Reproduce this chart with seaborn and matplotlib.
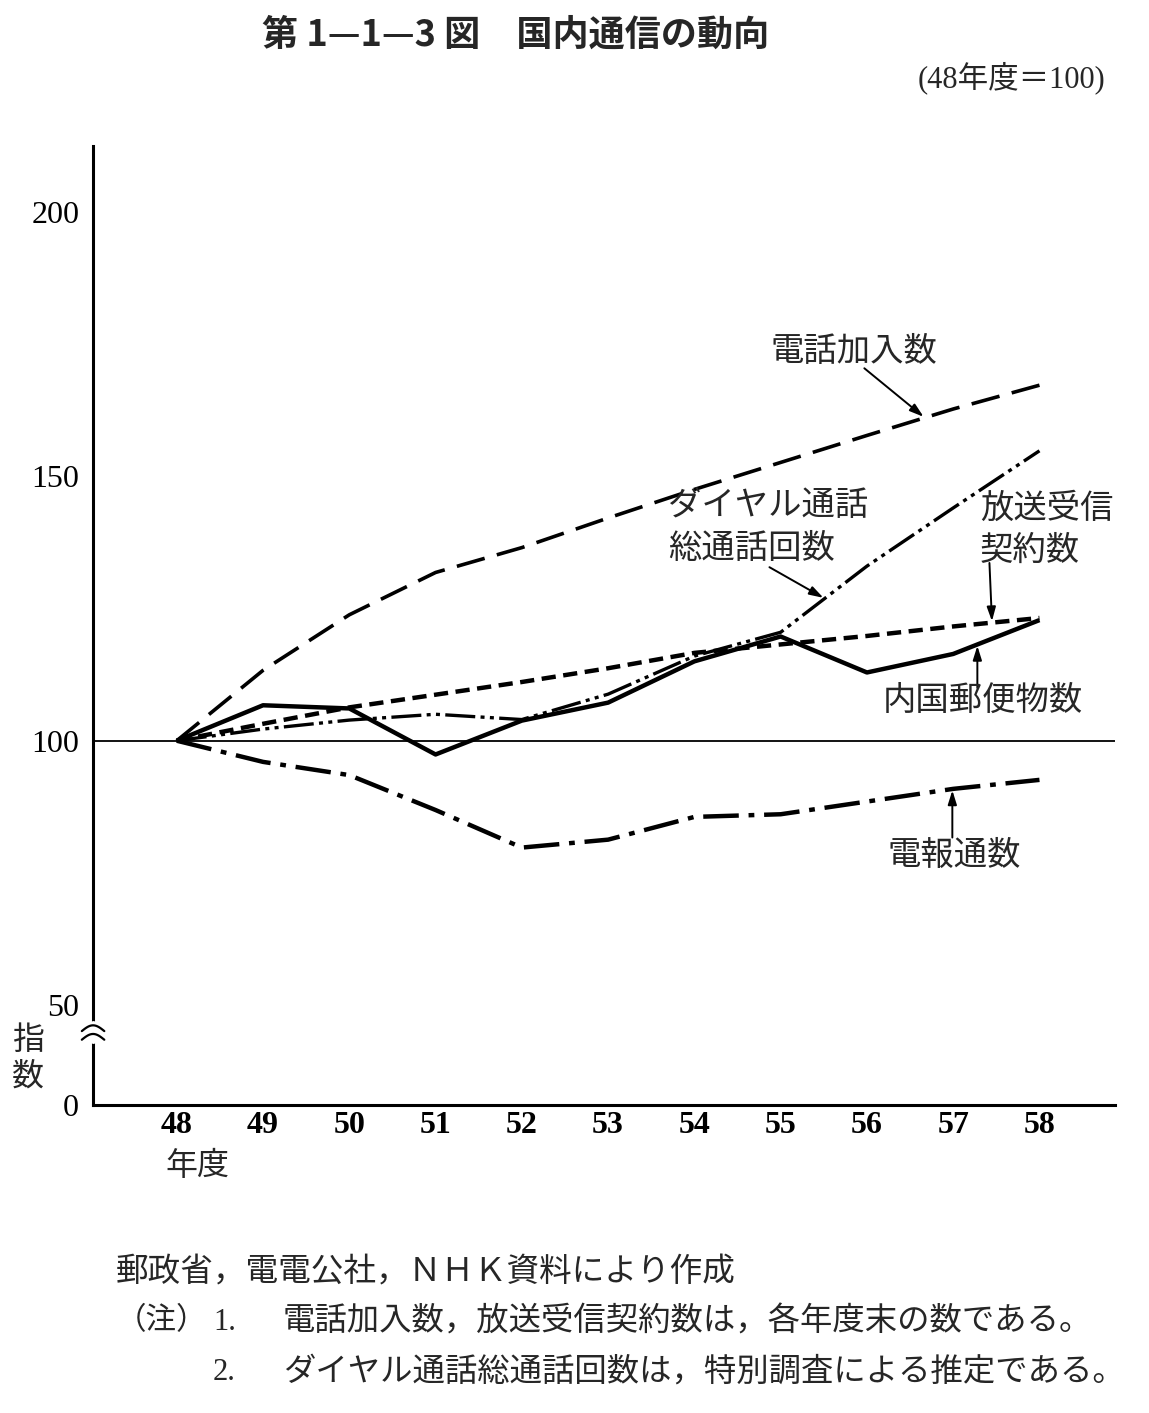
import numpy as np
import pandas as pd
import matplotlib
matplotlib.use("Agg")
import matplotlib.pyplot as plt
import seaborn as sns

# 国内通信の動向 (48年度=100)
years = [48, 49, 50, 51, 52, 53, 54, 55, 56, 57, 58]
tel_subs = [100, 113.3, 123.8, 131.8, 136.5, 142.1, 147.5, 152.6, 157.7, 162.7, 167.2]
dial_calls = [100, 102.2, 103.9, 105.0, 104.0, 108.8, 116.0, 120.5, 133.0, 144.0, 154.8]
broadcast = [100, 103.2, 106.3, 108.7, 111.1, 113.7, 116.6, 118.2, 119.8, 121.6, 123.2]
mail = [100, 106.7, 106.1, 97.4, 103.8, 107.2, 115.0, 119.7, 112.9, 116.4, 122.8]
telegram = [100, 96.0, 93.5, 86.9, 79.8, 81.3, 85.6, 86.1, 88.5, 90.9, 92.6]

y_ticks = [0, 50, 100, 150, 200]
x_labels = [str(y) for y in years]

names = ["電話加入数", "ダイヤル通話総通話回数", "放送受信契約数", "内国郵便物数", "電報通数"]
df = pd.DataFrame({
    "年度": years * 5,
    "指数": tel_subs + dial_calls + broadcast + mail + telegram,
    "系列": sum([[n] * len(years) for n in names], []),
})

sns.set_theme(style="white")
plt.rcParams["font.family"] = ["Liberation Serif", "Noto Sans CJK JP", "DejaVu Sans"]

fig = plt.figure(figsize=(11.49, 14.13), dpi=100)
ax = fig.add_axes([0.081, 0.218, 0.889, 0.679])


# broken axis below 50: 0-50 compressed
def fwd(y):
    y = np.asarray(y, dtype=float)
    return np.where(y >= 50, y, 50 - (50 - y) * 0.377)


def inv(t):
    t = np.asarray(t, dtype=float)
    return np.where(t >= 50, t, 50 - (50 - t) / 0.377)


ax.set_yscale("function", functions=(fwd, inv))

styles = {
    "電話加入数": dict(lw=2.6, linestyle=(0, (8, 3.5))),
    "ダイヤル通話総通話回数": dict(lw=2.4, linestyle=(0, (9, 1.6, 1.2, 1.6, 1.2, 1.6))),
    "放送受信契約数": dict(lw=3.2, linestyle=(0, (3.2, 1.7))),
    "内国郵便物数": dict(lw=3.2, linestyle="-"),
    "電報通数": dict(lw=3.2, linestyle=(0, (8, 2.2, 1.3, 2.2))),
}
for name in names:
    sub = df[df["系列"] == name]
    sns.lineplot(data=sub, x="年度", y="指数", ax=ax, color="black",
                 legend=False, solid_capstyle="butt", dash_capstyle="butt",
                 **styles[name])

ax.axhline(100, color="black", lw=1.3, zorder=1)

ax.set_xlim(47.03, 58.87)
ax.set_ylim(0, 212.5)
ax.set_xticks(years)
ax.set_xticklabels(x_labels)
ax.set_yticks(y_ticks)
ax.set_yticklabels([str(v) for v in y_ticks])
ax.set_xlabel("")
ax.set_ylabel("")
ax.tick_params(axis="x", direction="in", length=8, width=1.5, pad=4,
               labelsize=23, colors="black")
ax.tick_params(axis="y", direction="in", length=10, width=1.5, pad=10,
               labelsize=23, colors="black")
for lab in ax.get_xticklabels():
    lab.set_fontweight("bold")
ax.grid(False)
for s in ["top", "right"]:
    ax.spines[s].set_visible(False)
for s in ["left", "bottom"]:
    ax.spines[s].set_linewidth(2.2)
    ax.spines[s].set_color("black")

# axis break mark between 0 and 50
ax.plot([0, 0], [0.068, 0.084], transform=ax.transAxes, color="white",
        lw=5, clip_on=False, zorder=5)
u = np.linspace(-1, 1, 40)
for base in (0.077, 0.068):
    ax.plot(u * 0.011, base + 0.006 * np.cos(u * np.pi / 2),
            transform=ax.transAxes, color="black", lw=1.6,
            clip_on=False, zorder=6)

# labels and arrows
cjk = ["Noto Sans CJK JP"]
lab_fs = 24


def ftext(px, py, s, **kw):
    fig.text(px / 1149, 1 - py / 1413, s, va="center", **kw)


ftext(770, 352, "電話加入数", fontsize=lab_fs, family=cjk)
ftext(668, 505, "ダイヤル通話", fontsize=lab_fs, family=cjk)
ftext(668, 548, "総通話回数", fontsize=lab_fs, family=cjk)
ftext(980, 508, "放送受信", fontsize=lab_fs, family=cjk)
ftext(980, 550, "契約数", fontsize=lab_fs, family=cjk)
ftext(883, 700, "内国郵便物数", fontsize=lab_fs, family=cjk)
ftext(888, 855, "電報通数", fontsize=lab_fs, family=cjk)
ftext(12, 1040, "指", fontsize=23, family=cjk)
ftext(12, 1077, "数", fontsize=23, family=cjk)
ftext(197, 1166, "年度", fontsize=23, family=cjk, ha="center")

arrows = [
    (tel_subs, 55.97, 170.4, 56.67),
    (dial_calls, 54.87, 132.8, 55.51),
    (broadcast, 57.42, 133.6, 57.45),
    (mail, 57.28, 110.0, 57.28),
    (telegram, 56.99, 81.7, 56.99),
]
for series, tx, ty, hx in arrows:
    hy = np.interp(hx, years, series)
    ax.annotate("", xy=(hx, hy), xytext=(tx, ty),
                arrowprops=dict(arrowstyle="-|>,head_length=0.7,head_width=0.22",
                                lw=1.4, color="black", shrinkA=0, shrinkB=1))

# title and notes
ftext(262, 35, "第 1—1—3 図　国内通信の動向", fontsize=26, family=cjk,
      fontweight="bold")
ftext(918, 78, "(48年度＝100)", fontsize=22)
ftext(116, 1273, "郵政省，電電公社，ＮＨＫ資料により作成", fontsize=23.5)
ftext(116, 1322, "（注）", fontsize=22)
ftext(213, 1322, "1.", fontsize=22)
ftext(283, 1322, "電話加入数，放送受信契約数は，各年度末の数である。", fontsize=23.3)
ftext(213, 1372, "2.", fontsize=22)
ftext(283, 1372, "ダイヤル通話総通話回数は，特別調査による推定である。", fontsize=23.3)

fig.savefig("out.png", dpi=100, facecolor="white")
